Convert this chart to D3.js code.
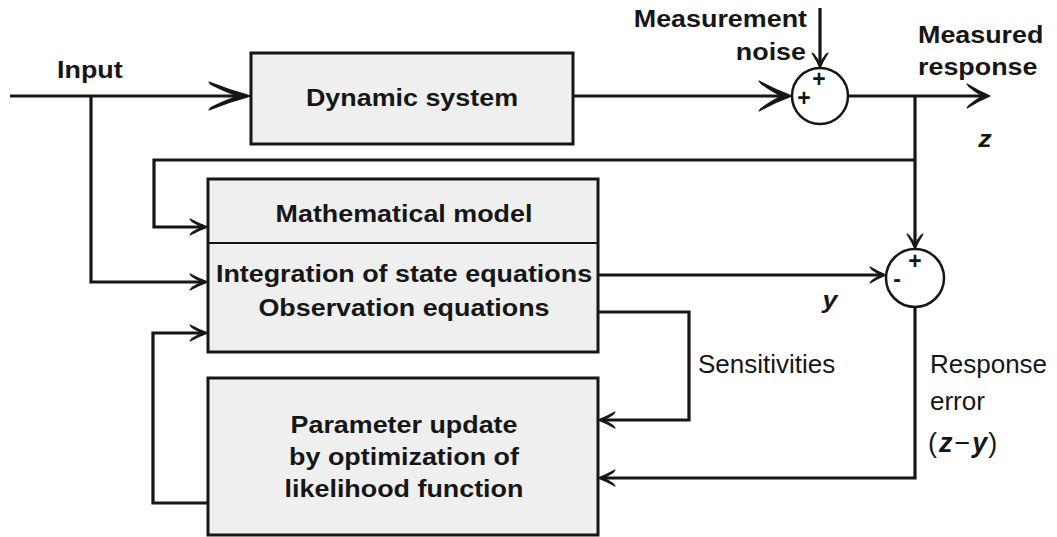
<!DOCTYPE html>
<html>
<head>
<meta charset="utf-8">
<script src="https://cdn.jsdelivr.net/npm/d3@7/dist/d3.min.js"></script>
<style>
  body { margin: 0; background: #fff; }
  text { font-family: "Liberation Sans", Arial, Helvetica, sans-serif; fill: #161616; }
</style>
</head>
<body>
<svg id="diagram" width="1057" height="537"></svg>
<script>
// blocks of the diagram (corners in page pixels)
blocks = [
    {id: "dyn",    x0: 251, y0: 53,  x1: 573, y1: 144},
    {id: "model",  x0: 208, y0: 179, x1: 598, y1: 352, divider: 243},
    {id: "update", x0: 208, y0: 378, x1: 598, y1: 535}
];

// text inside blocks: [text, centre x, baseline]
blockLabels = [
    ["Dynamic system", 412, 106],
    ["Mathematical model", 404, 222],
    ["Integration of state equations", 404, 282],
    ["Observation equations", 404, 316],
    ["Parameter update", 404, 433],
    ["by optimization of", 404, 465],
    ["likelihood function", 404, 497]
];

// summing junctions: centre and radius
junctions = [
    {cx: 820, cy: 96,  r: 28},
    {cx: 915, cy: 278, r: 29}
];

// signs at the junctions
signs = [
    ["+", 819, 87], ["+", 804, 106], ["+", 915, 269], ["-", 897, 287]
];

// connectors: polyline, arrow length, arrow half width
connectors = [
    {pts: [[10, 96], [251, 96]], L: 42, W: 14},
    {pts: [[573, 96], [792, 96]], L: 33, W: 15},
    {pts: [[820, 8], [820, 68]], L: 15, W: 8},
    {pts: [[848, 96], [990, 96]], L: 23, W: 12},
    {pts: [[915, 96], [915, 249]], L: 15, W: 8},
    {pts: [[915, 160], [154, 160], [154, 227], [208, 227]], L: 18, W: 8},
    {pts: [[91, 96], [91, 282], [208, 282]], L: 18, W: 8},
    {pts: [[598, 275], [886, 275]], L: 16, W: 8},
    {pts: [[598, 312], [689, 312], [689, 420], [598, 420]], L: 17, W: 8},
    {pts: [[915, 307], [915, 478], [598, 478]], L: 17, W: 8},
    {pts: [[208, 503], [153, 503], [153, 333], [208, 333]], L: 18, W: 8}
];

// free labels: [text, x, baseline, anchor, style]
freeLabels = [
    ["Input", 57, 78, "start", "b"],
    ["Measurement", 807, 27, "end", "b"],
    ["noise", 806, 60, "end", "b"],
    ["Measured", 918, 43, "start", "b"],
    ["response", 918, 75, "start", "b"],
    ["z", 985, 147, "middle", "bi"],
    ["y", 830, 308, "middle", "bi"],
    ["Sensitivities", 698, 373, "start", "r"],
    ["Response", 930, 373, "start", "r"],
    ["error", 930, 410, "start", "r"]
];

ink = "#161616";
boldStretch = 1.12;

svg = d3.select("#diagram");

// blocks
svg.selectAll("rect.block")
    .data(blocks)
    .enter().append("rect")
    .attr("class", "block")
    .attr("x", d => d.x0)
    .attr("y", d => d.y0)
    .attr("width", d => d.x1 - d.x0)
    .attr("height", d => d.y1 - d.y0)
    .attr("fill", "#efefef")
    .attr("stroke", ink)
    .attr("stroke-width", 3);

blocks.filter(b => b.divider).forEach(b => {
    svg.append("line")
        .attr("x1", b.x0).attr("x2", b.x1)
        .attr("y1", b.divider).attr("y2", b.divider)
        .attr("stroke", ink).attr("stroke-width", 2);
});

function boldText(sel, t, x, y, anchor, italic) {
    return sel.append("text")
        .attr("transform", `translate(${x},${y}) scale(${boldStretch},1)`)
        .attr("text-anchor", anchor)
        .attr("font-size", 24)
        .attr("font-weight", "bold")
        .attr("font-style", italic ? "italic" : "normal")
        .text(t);
}

blockLabels.forEach(l => boldText(svg, l[0], l[1], l[2], "middle", false));

// arrow head pointing along +x, tip at 0,0
function headPath(L, W) {
    return `M0,0 Q${-0.5 * L},${-0.4 * W} ${-L},${-W} L${-L + 2},${-W + 2.5} ` +
        `Q${-0.55 * L},${-0.22 * W} ${-0.3 * L},0 ` +
        `Q${-0.55 * L},${0.22 * W} ${-L + 2},${W - 2.5} L${-L},${W} ` +
        `Q${-0.5 * L},${0.4 * W} 0,0Z`;
}

line = d3.line();

connectors.forEach(c => {
    pts = c.pts.map(p => p.slice());
    n = pts.length;
    tip = pts[n - 1];
    prev = pts[n - 2];
    ang = Math.atan2(tip[1] - prev[1], tip[0] - prev[0]);
    // stop the shaft inside the head
    shaftEnd = [tip[0] - Math.cos(ang) * c.L * 0.3, tip[1] - Math.sin(ang) * c.L * 0.3];
    pts[n - 1] = shaftEnd;
    svg.append("path")
        .attr("d", line(pts))
        .attr("fill", "none")
        .attr("stroke", ink)
        .attr("stroke-width", 3.2)
        .attr("stroke-linejoin", "miter");
    svg.append("path")
        .attr("d", headPath(c.L, c.W))
        .attr("transform", `translate(${tip[0]},${tip[1]}) rotate(${ang * 180 / Math.PI})`)
        .attr("fill", ink)
        .attr("stroke", ink)
        .attr("stroke-width", 1.2)
        .attr("stroke-linejoin", "round");
});

// junctions
svg.selectAll("circle.sum")
    .data(junctions)
    .enter().append("circle")
    .attr("class", "sum")
    .attr("cx", d => d.cx)
    .attr("cy", d => d.cy)
    .attr("r", d => d.r)
    .attr("fill", "#fff")
    .attr("stroke", ink)
    .attr("stroke-width", 2.5);

signs.forEach(s => {
    svg.append("text")
        .attr("x", s[1]).attr("y", s[2])
        .attr("text-anchor", "middle")
        .attr("font-size", 23)
        .attr("font-weight", "bold")
        .text(s[0]);
});

freeLabels.forEach(l => {
    if (l[4] === "r") {
        svg.append("text")
            .attr("x", l[1]).attr("y", l[2])
            .attr("text-anchor", l[3])
            .attr("font-size", 26)
            .text(l[0]);
    } else {
        boldText(svg, l[0], l[1], l[2], l[3], l[4] === "bi");
    }
});

// (z - y)
zy = svg.append("text")
    .attr("x", 928).attr("y", 452)
    .attr("font-size", 27);
zy.append("tspan").text("(");
zy.append("tspan").attr("dx", 2).attr("font-weight", "bold").attr("font-style", "italic").text("z");
zy.append("tspan").attr("dx", 2).text("\u2212");
zy.append("tspan").attr("dx", 2).attr("font-weight", "bold").attr("font-style", "italic").text("y");
zy.append("tspan").attr("dx", 1).text(")");
</script>
</body>
</html>
